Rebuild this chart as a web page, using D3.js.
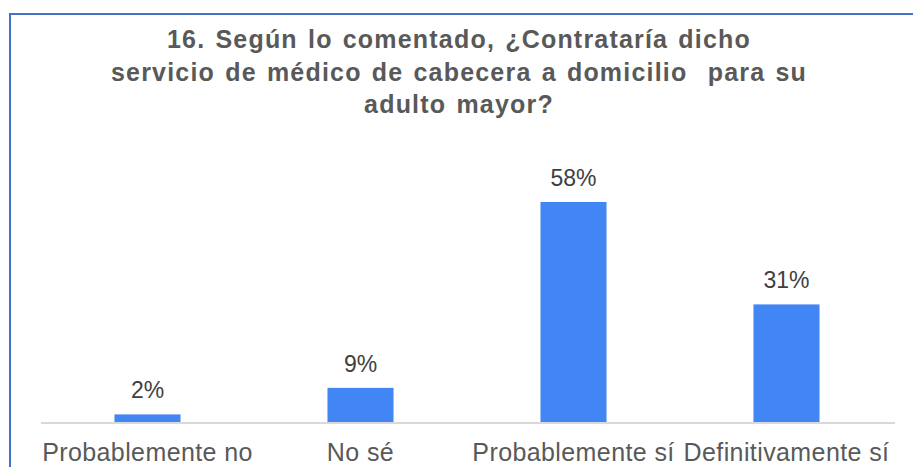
<!DOCTYPE html>
<html>
<head>
<meta charset="utf-8">
<script src="https://cdn.jsdelivr.net/npm/d3@7"></script>
<style>
  html, body { margin: 0; padding: 0; background: #ffffff; }
  svg { display: block; font-family: "Liberation Sans", Arial, sans-serif; }
</style>
</head>
<body>
<svg id="chart" width="913" height="467"></svg>
<script>
// Survey answers and their share of respondents (%)
const categories = ["Probablemente no", "No sé", "Probablemente sí", "Definitivamente sí"];
const percentages = [2, 9, 58, 31];
const titleLines = [
  "16. Según lo comentado, ¿Contrataría dicho",
  "servicio de médico de cabecera a domicilio  para su",
  "adulto mayor?"
];

const width = 913, height = 467;
const svg = d3.select("#chart");

// Outer frame of the chart area (runs past the right and bottom edges)
svg.append("rect")
  .attr("x", 10).attr("y", 14)
  .attr("width", 920).attr("height", 480)
  .attr("fill", "#ffffff")
  .attr("stroke", "#4472c4")
  .attr("stroke-width", 2);

// Title
svg.append("text")
  .attr("text-anchor", "middle")
  .attr("font-size", 25)
  .attr("font-weight", "bold")
  .attr("fill", "#595959")
  .style("letter-spacing", "1.2px")
  .style("word-spacing", "2px")
  .style("white-space", "pre")
  .selectAll("tspan")
  .data(titleLines)
  .join("tspan")
  .attr("x", 459)
  .attr("y", (d, i) => 48 + i * 32.5)
  .text(d => d);

// Scales
const x = d3.scaleBand()
  .domain(categories)
  .range([41, 893])
  .paddingInner(0.69)
  .paddingOuter(0.345);

const baseline = 422;
const y = d3.scaleLinear()
  .domain([0, 58])
  .range([baseline, 202]);

// Bars
svg.append("g")
  .selectAll("rect")
  .data(percentages)
  .join("rect")
  .attr("x", (d, i) => x(categories[i]))
  .attr("y", d => y(d))
  .attr("width", x.bandwidth())
  .attr("height", d => baseline - y(d))
  .attr("fill", "#4285f4");

// Category axis
const axis = svg.append("g")
  .attr("transform", `translate(0,${baseline})`)
  .call(d3.axisBottom(x).tickSize(0).tickPadding(0));
axis.select(".domain")
  .attr("stroke", "#d9d9d9")
  .attr("stroke-width", 2)
  .attr("d", "M41,1H895");
axis.selectAll(".tick text")
  .attr("font-family", "\"Liberation Sans\", Arial, sans-serif")
  .attr("font-size", 25)
  .attr("fill", "#595959")
  .style("letter-spacing", "0.4px")
  .attr("dy", null)
  .attr("y", 39);

// Value labels
svg.append("g")
  .selectAll("text")
  .data(percentages)
  .join("text")
  .attr("x", (d, i) => x(categories[i]) + x.bandwidth() / 2)
  .attr("y", d => y(d) - 16)
  .attr("text-anchor", "middle")
  .attr("font-size", 23)
  .attr("fill", "#404040")
  .text(d => d + "%");
</script>
</body>
</html>
